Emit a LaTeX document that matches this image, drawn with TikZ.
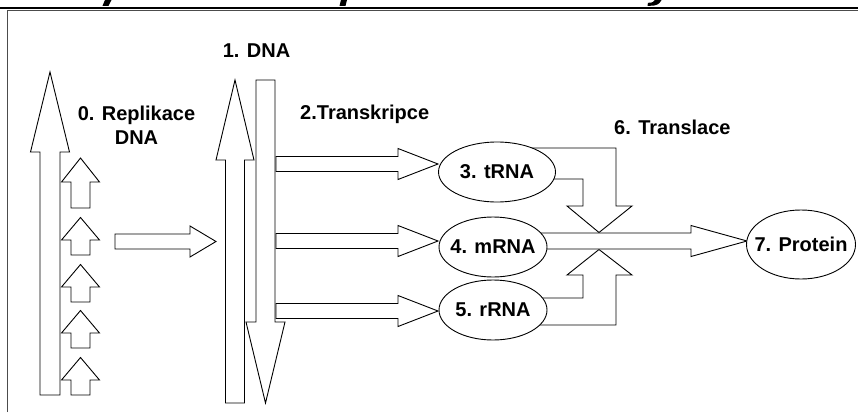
\documentclass[tikz,border=0pt]{standalone}
\usepackage{fontspec}
\setmainfont{Liberation Sans}
\usetikzlibrary{shapes.geometric, calc, positioning}
\tikzstyle{molecule} = [draw, ellipse, fill=white, line width=0.9pt, inner sep=0pt,
font=\fontsize{20}{24}\selectfont\bfseries]
\tikzstyle{steptext} = [inner sep=0pt, align=center, font=\fontsize{20}{24}\selectfont\bfseries]
\tikzstyle{blockarrow} = [draw, fill=white, line width=0.9pt, line join=miter]
% text of zero width, so the ellipse keeps its own size
\newcommand{\ctext}[1]{\makebox[0pt]{#1}}
% horizontal block arrow: start x, head x, tip x, mid y, half shaft, half head
\newcommand{\harrow}[6]{%
  \draw[blockarrow] (#1,{#4-#5}) -- (#2,{#4-#5}) -- (#2,{#4-#6}) -- (#3,#4)
    -- (#2,{#4+#6}) -- (#2,{#4+#5}) -- (#1,{#4+#5}) -- cycle;}
% vertical block arrow: mid x, start y, head y, tip y, half shaft, half head
\newcommand{\varrow}[6]{%
  \draw[blockarrow] ({#1-#5},#2) -- ({#1-#5},#3) -- ({#1-#6},#3) -- (#1,#4)
    -- ({#1+#6},#3) -- ({#1+#5},#3) -- ({#1+#5},#2) -- cycle;}

\begin{document}
\begin{tikzpicture}[x=1pt, y=-1pt]
	\useasboundingbox (0,0) rectangle (858,412);
	% page frame and the title rule above it
	\draw[line width=2.3pt] (0,7.8) -- (858,7.8);
	\fill (105,0) -- (111.5,0) -- (108.5,5.8) -- (102.5,5.8) -- cycle;
	\fill (341,0) -- (347,0) -- (345.5,5.8) -- (339.5,5.8) -- cycle;
	\fill (655,0) -- (661.5,0) .. controls (659.5,4.5) and (656,5.8) .. (650,5.8)
		-- (647.5,5.8) -- (648,2.8) .. controls (652.5,2.8) and (654,1.8) .. (655,0) -- cycle;
	\draw[gray!60!black, line width=1.2pt] (7.5,412) -- (7.5,10.3) -- (858,10.3);

	% replication: template strand and the new fragments
	\varrow{50}{395}{152}{72}{10}{19.5}
	\varrow{80.5}{208}{182}{158}{9.5}{19}
	\foreach \yb in {255, 302, 348, 395}
		\varrow{80.5}{\yb}{\yb-15}{\yb-37.5}{9.5}{19};
	\harrow{115}{190}{216}{241.5}{7.5}{15.5}

	% the two DNA strands
	\varrow{235}{403}{160}{80}{9.5}{19}
	\varrow{265.5}{80}{322}{403}{9.5}{19.5}

	% transcription
	\foreach \ym in {164, 241, 311}
		\harrow{276}{398}{438}{\ym}{7.5}{15.5};

	% translation: tRNA and rRNA join the mRNA
	\draw[blockarrow] (497,148) -- (616,148) -- (616,206) -- (632,206) -- (599,232.5)
		-- (567,206) -- (583,206) -- (583,179) -- (497,179) -- cycle;
	\draw[blockarrow] (493,325) -- (616,325) -- (616,275) -- (632,275) -- (599,249.5)
		-- (567,275) -- (583,275) -- (583,298) -- (493,298) -- cycle;
	\harrow{493}{691}{747}{241}{8}{15.5}

	\node (trna) [molecule, minimum width=117, minimum height=60] at (497,172) {\ctext{3. tRNA}};
	\node (mrna) [molecule, minimum width=108, minimum height=60] at (493,247) {\ctext{4. mRNA}};
	\node (rrna) [molecule, minimum width=108, minimum height=60] at (493,310) {\ctext{5. rRNA}};
	\node (protein) [molecule, minimum width=109, minimum height=69] at (801,244.5) {\ctext{7. Protein}};

	\node (dna) [steptext, anchor=base] at (256.5,57) {1. DNA};
	\node (replication) [steptext] at (136.5,125) {0. Replikace\\DNA};
	\node (transcription) [steptext, anchor=base west] at (300,119.5) {2.Transkripce};
	\node (translation) [steptext, anchor=base west] at (614,134) {6. Translace};
\end{tikzpicture}
\end{document}
